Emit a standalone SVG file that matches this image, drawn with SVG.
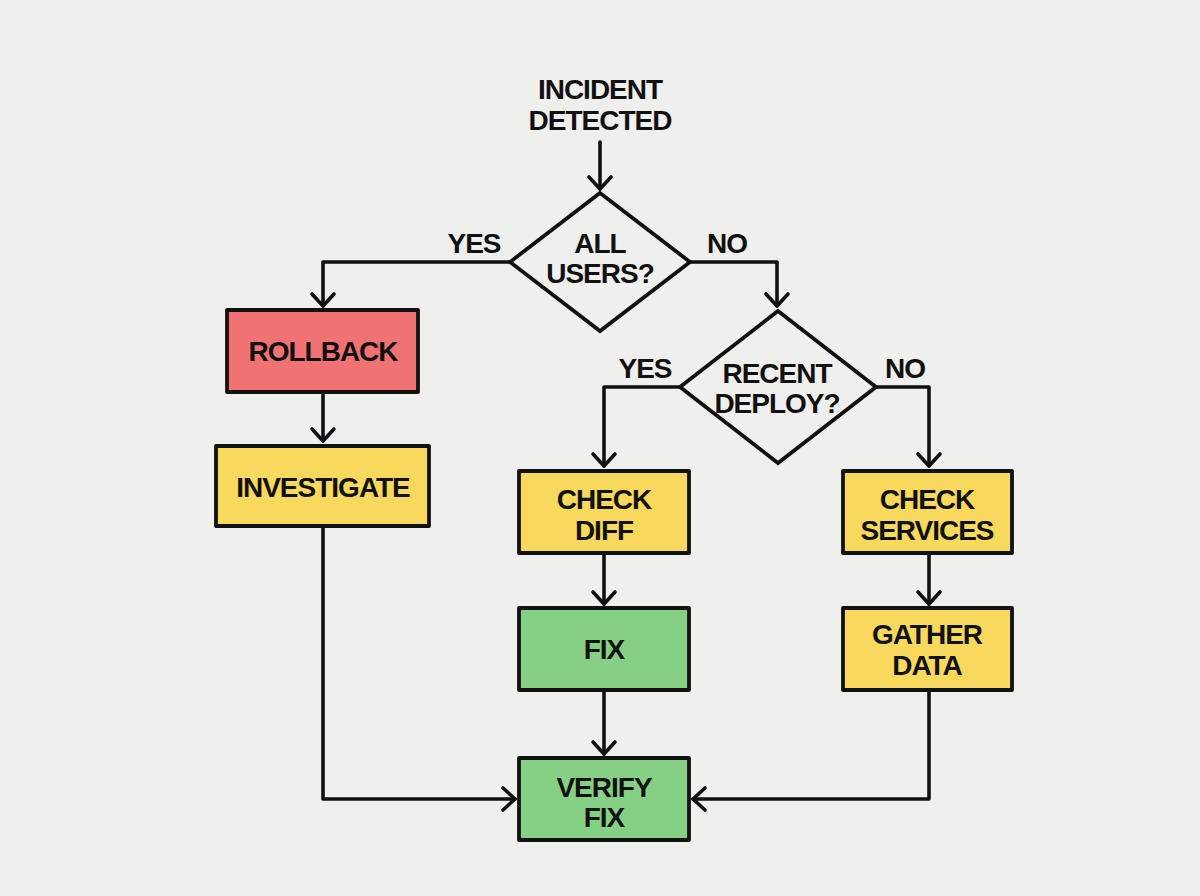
<svg xmlns="http://www.w3.org/2000/svg" width="1200" height="896" viewBox="0 0 1200 896">
<defs>
<style>
.t{font-family:"Liberation Sans",Arial,sans-serif;font-weight:bold;font-size:28px;letter-spacing:-1px;fill:#111;text-anchor:middle}
.box{stroke:#111;stroke-width:3.8;stroke-linejoin:round}
.red{fill:#f07272}
.yel{fill:#f8d95c}
.grn{fill:#86d086}
.dia{fill:none;stroke:#111;stroke-width:3.8;stroke-linejoin:miter}
.c{fill:none;stroke:#111;stroke-width:3.6;stroke-linejoin:round;stroke-linecap:round;marker-end:url(#arr)}
</style>
<marker id="arr" markerUnits="userSpaceOnUse" markerWidth="30" markerHeight="30" viewBox="-15 -15 30 30" refX="0" refY="0" orient="auto">
<path d="M-12,-11 L0,0 L-12,11" fill="none" stroke="#111" stroke-width="3.6" stroke-linecap="round" stroke-linejoin="round"/>
</marker>
</defs>
<rect width="1200" height="896" fill="#efefee"/>
<g id="connectors">
<path class="c" d="M600,142 L600,189"/>
<path class="c" d="M510,262 L323,262 L323,306"/>
<path class="c" d="M690,262 L777,262 L777,306"/>
<path class="c" d="M680,387 L604,387 L604,466"/>
<path class="c" d="M876,387 L929,387 L929,466"/>
<path class="c" d="M323,392 L323,441"/>
<path class="c" d="M604,553 L604,604"/>
<path class="c" d="M929,553 L929,604"/>
<path class="c" d="M604,690 L604,754"/>
<path class="c" d="M323,526 L323,799 L515,799"/>
<path class="c" d="M929,690 L929,799 L693,799"/>
<text class="t" x="474" y="253">YES</text>
<text class="t" x="727" y="253">NO</text>
<text class="t" x="645" y="378">YES</text>
<text class="t" x="905" y="378">NO</text>
</g>
<g id="incident">
<text class="t" x="600" y="99">INCIDENT</text>
<text class="t" x="600" y="130">DETECTED</text>
</g>
<g id="all-users">
<polygon class="dia" points="600,193 690,262 600,331 510,262"/>
<text class="t" x="600" y="253">ALL</text>
<text class="t" x="600" y="283">USERS?</text>
</g>
<g id="recent-deploy">
<polygon class="dia" points="778,311 876,387 778,463 680,387"/>
<text class="t" x="777" y="383">RECENT</text>
<text class="t" x="777" y="413">DEPLOY?</text>
</g>
<g id="rollback">
<rect class="box red" x="227" y="310" width="191" height="82"/>
<text class="t" x="323" y="361">ROLLBACK</text>
</g>
<g id="investigate">
<rect class="box yel" x="216" y="446" width="213" height="80"/>
<text class="t" x="323" y="497">INVESTIGATE</text>
</g>
<g id="check-diff">
<rect class="box yel" x="519" y="471" width="170" height="82"/>
<text class="t" x="604" y="509">CHECK</text>
<text class="t" x="604" y="540">DIFF</text>
</g>
<g id="check-services">
<rect class="box yel" x="843" y="471" width="169" height="82"/>
<text class="t" x="927" y="509">CHECK</text>
<text class="t" x="927" y="540">SERVICES</text>
</g>
<g id="fix">
<rect class="box grn" x="519" y="608" width="170" height="82"/>
<text class="t" x="604" y="659">FIX</text>
</g>
<g id="gather-data">
<rect class="box yel" x="843" y="608" width="169" height="82"/>
<text class="t" x="927" y="644">GATHER</text>
<text class="t" x="927" y="675">DATA</text>
</g>
<g id="verify-fix">
<rect class="box grn" x="519" y="758" width="170" height="82"/>
<text class="t" x="604" y="797">VERIFY</text>
<text class="t" x="604" y="827">FIX</text>
</g>
</svg>
